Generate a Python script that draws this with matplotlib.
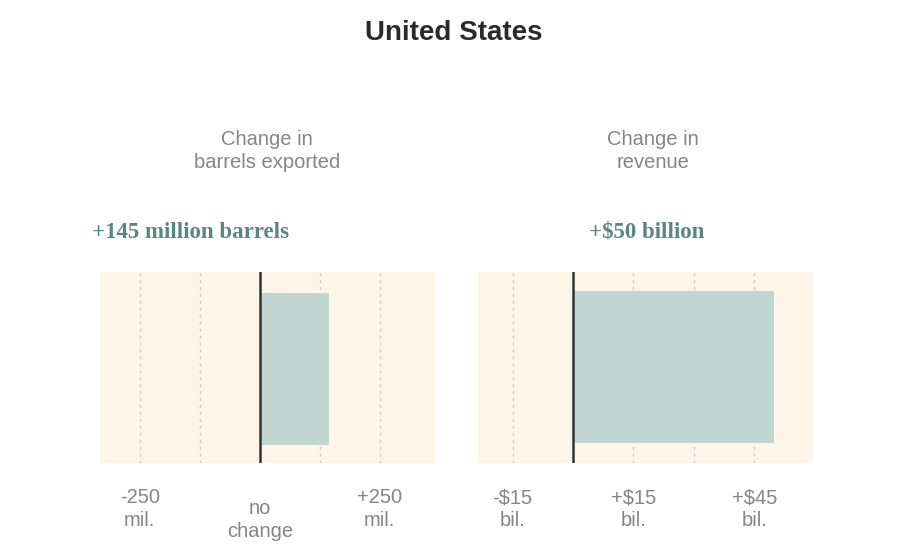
import matplotlib
matplotlib.use("Agg")
import matplotlib.pyplot as plt
from matplotlib import font_manager

# ============================================
# DATA
# ============================================

title = "United States"

barrels_change = 145          # million barrels
revenue_change = 50           # billion dollars

barrels_grid = [-250, -125, 125, 250]
barrels_ticks = [-250, 0, 250]
barrels_tick_labels = ["-250\nmil.", "no\nchange", "+250\nmil."]

revenue_grid = [-15, 15, 30, 45]
revenue_ticks = [-15, 15, 45]
revenue_tick_labels = ["-$15\nbil.", "+$15\nbil.", "+$45\nbil."]

panel_titles = ["Change in\nbarrels exported", "Change in\nrevenue"]
value_labels = ["+145 million barrels", "+$50 billion"]

# ============================================
# STYLE
# ============================================

names = {f.name for f in font_manager.fontManager.ttflist}
narrow = "Liberation Sans Narrow" if "Liberation Sans Narrow" in names else "Liberation Sans"

BG = "#fef5e8"
BAR = "#c0d7d1"
GRAY = "#858585"
TEAL = "#5a877b"
ZERO = "#333333"
GRID = "#cfc8bf"
FS = 14.5

fig = plt.figure(figsize=(9.04, 5.46), dpi=100)
fig.patch.set_facecolor("white")

fig.text(0.502, 1 - 33 / 546, title, ha="center", va="center",
         fontsize=20, fontweight="bold", color="#2a2a2a", family="Liberation Sans")

ax1 = fig.add_axes([100 / 904, 1 - 463 / 546, 335 / 904, 191 / 546])
ax2 = fig.add_axes([478 / 904, 1 - 463 / 546, 335 / 904, 191 / 546])


def draw_panel(ax, value, xlim, grid, ticks, tick_labels, bar_bottom, bar_top):
    ax.set_facecolor(BG)
    ax.set_xlim(*xlim)
    ax.set_ylim(0, 1)
    for g in grid:
        ax.axvline(g, color=GRID, linestyle=(0, (2, 3)), linewidth=1.0, zorder=1)
    ax.barh(0.5 * (bar_bottom + bar_top), value, height=bar_top - bar_bottom,
            left=0, color=BAR, zorder=2)
    ax.axvline(0, color=ZERO, linewidth=1.8, zorder=3)
    for s in ax.spines.values():
        s.set_visible(False)
    ax.set_xticks([])
    ax.set_yticks([])
    trans = ax.get_xaxis_transform()
    for t, lab in zip(ticks, tick_labels):
        y = -0.298 if lab.startswith("no") else -0.243
        ax.text(t, y, lab, transform=trans, ha="center", va="center",
                fontsize=FS, color=GRAY, family=narrow, linespacing=1.27)


draw_panel(ax1, barrels_change, (-333, 365), barrels_grid,
           barrels_ticks, barrels_tick_labels, 0.094, 0.89)
draw_panel(ax2, revenue_change, (-23.6, 59.6), revenue_grid,
           revenue_ticks, revenue_tick_labels, 0.105, 0.90)

# panel headers
fig.text(267 / 904, 1 - 151 / 546, panel_titles[0], ha="center", va="center",
         fontsize=FS, color=GRAY, family=narrow, linespacing=1.27)
fig.text(653 / 904, 1 - 151 / 546, panel_titles[1], ha="center", va="center",
         fontsize=FS, color=GRAY, family=narrow, linespacing=1.27)

fig.text(191 / 904, 1 - 232 / 546, value_labels[0], ha="center", va="center",
         fontsize=16.5, fontweight="bold", color=TEAL, family="Liberation Serif")
fig.text(647 / 904, 1 - 232 / 546, value_labels[1], ha="center", va="center",
         fontsize=16.5, fontweight="bold", color=TEAL, family="Liberation Serif")

fig.savefig("out.png", dpi=100)
